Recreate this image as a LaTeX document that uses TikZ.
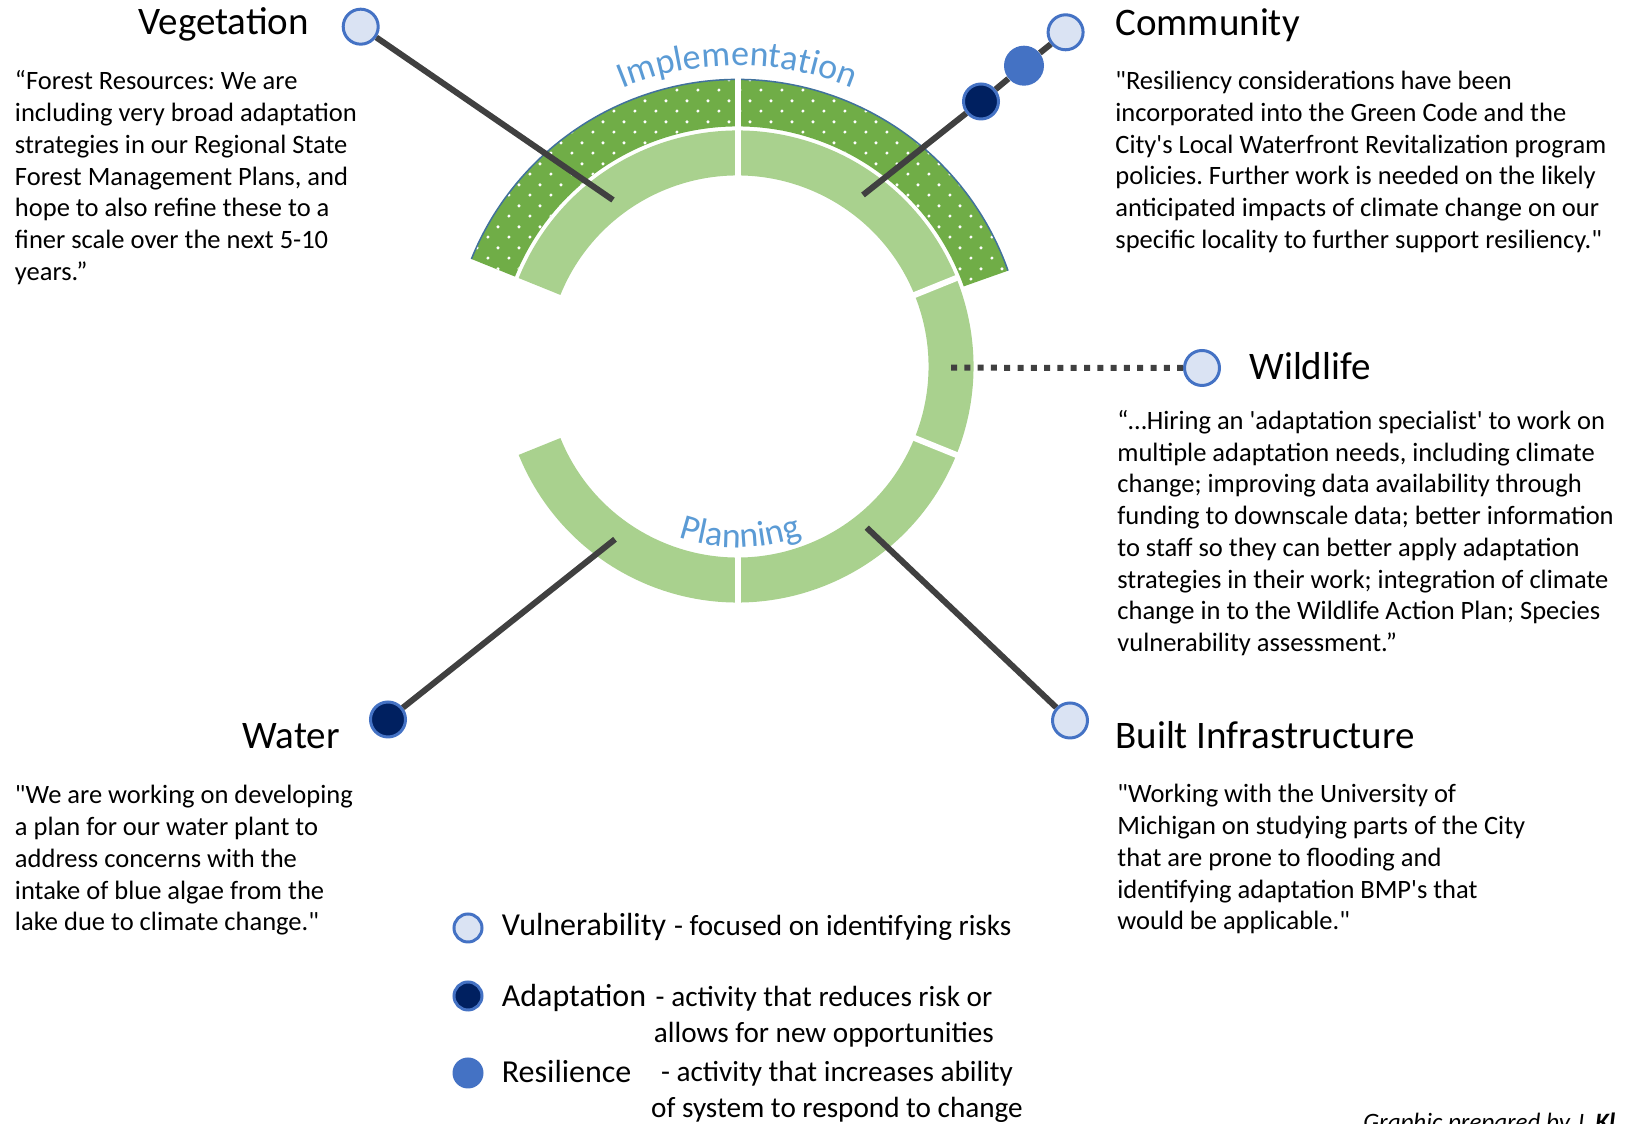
\documentclass[tikz,border=0pt]{standalone}
\usepackage{fontspec}
\setmainfont{Carlito}
\usetikzlibrary{decorations.text,patterns.meta}
\frenchspacing

\definecolor{ringgreen}{HTML}{70AD47}
\definecolor{ringlight}{HTML}{A9D18E}
\definecolor{ringedge}{HTML}{41719C}
\definecolor{vulnfill}{HTML}{DAE3F3}
\definecolor{dotedge}{HTML}{4472C4}
\definecolor{adaptfill}{HTML}{002060}
\definecolor{resilfill}{HTML}{4472C4}
\definecolor{linkgray}{HTML}{404040}
\definecolor{labelblue}{HTML}{5B9BD5}

\tikzdeclarepattern{
  name=ringdots,
  type=uncolored,
  bottom left={(0pt,0pt)},
  top right={(10.5pt,10.5pt)},
  tile size={(10.5pt,10.5pt)},
  code={
    \fill (2.6pt,2.6pt) circle (0.9pt);
    \fill (7.85pt,7.85pt) circle (0.9pt);
  }
}

\begin{document}
\begin{tikzpicture}[x=0.5pt,y=0.5pt,
  vulndot/.style={circle,draw=dotedge,line width=1.5pt,fill=vulnfill,minimum size=17.5pt,inner sep=0pt},
  adaptdot/.style={vulndot,fill=adaptfill},
  resildot/.style={circle,fill=resilfill,minimum size=20pt,inner sep=0pt},
  keydot/.style={minimum size=14pt},
  linkline/.style={linkgray,line width=3pt},
  ringgap/.style={white,line width=3pt},
  headtext/.style={font=\fontsize{19.5}{23.4}\selectfont,inner sep=0pt},
  quotetext/.style={font=\fontsize{13.25}{15.85}\selectfont,align=left,inner sep=0pt,anchor=base west},
  keyname/.style={font=\fontsize{16}{19.5}\selectfont,inner sep=0pt,anchor=base west},
  keytext/.style={font=\fontsize{14.6}{18}\selectfont,inner sep=0pt,align=center,anchor=base},
]

\useasboundingbox (0,0) rectangle (1635,1124);
\clip (0,0) rectangle (1635,1124);

\coordinate (ringc) at (737.5,757.5);

% rings
\begin{scope}[shift={(ringc)}]
\fill[ringlight] (158:236) arc[start angle=158,end angle=-158,radius=236]
  -- (-158:191) arc[start angle=-158,end angle=158,radius=191] -- cycle;
\fill[ringgreen,postaction={pattern=ringdots,pattern color=white}]
  (19.5:287) arc[start angle=19.5,end angle=158,radius=287]
  -- (158:240) arc[start angle=158,end angle=19.5,radius=240] -- cycle;
\draw[ringedge,line width=0.75pt] (19.5:287) arc[start angle=19.5,end angle=158,radius=287];
\draw[ringgap] (90:185) -- (90:292);
\foreach \a in {22,-22,-90}
  \draw[ringgap] (\a:185) -- (\a:239);

\path[decorate,decoration={text along path,text align=center,text color=labelblue,
  text={|\fontsize{18}{18}\selectfont|Implementation}}]
  (130:301) arc[start angle=130,end angle=50,radius=301];
\path[decorate,decoration={text along path,text align=center,text color=labelblue,
  text={|\fontsize{18}{18}\selectfont|Planning}}]
  (-129:181) arc[start angle=-129,end angle=-49,radius=181];
\end{scope}

% sectors
\node[vulndot] (veg) at (360.7,1097.3) {};
\node[vulndot] (comm) at (1065.6,1091.7) {};
\node[resildot] (commres) at (1024,1058.3) {};
\node[adaptdot] (commadapt) at (981,1022.5) {};
\node[vulndot] (wild) at (1202,756) {};
\node[vulndot] (built) at (1070,403.5) {};
\node[adaptdot] (water) at (388,404.5) {};

\coordinate (vegend) at (613,924);
\coordinate (commend) at (863,929);
\coordinate (wildend) at (951,756.3);
\coordinate (builtend) at (866.7,596.3);
\coordinate (waterend) at (615,584.7);

\draw[linkline] (veg) -- (vegend);
\draw[linkline] (comm) -- (commres);
\draw[linkline] (commres) -- (commadapt);
\draw[linkline] (commadapt) -- (commend);
\draw[linkline,dash pattern=on 3pt off 3.65pt] (wildend) -- (wild);
\draw[linkline] (built) -- (builtend);
\draw[linkline] (water) -- (waterend);

\node[headtext,anchor=base west] (vegtitle) at (138,1089) {Vegetation};
\node[quotetext] (vegquote) at (14.6,843.8) {“Forest Resources: We are\\
including very broad adaptation\\
strategies in our Regional State\\
Forest Management Plans, and\\
hope to also refine these to a\\
finer scale over the next 5-10\\
years.”};

\node[headtext,anchor=base west] (commtitle) at (1115,1088.5) {Community};
\node[quotetext] (commquote) at (1115,875.8) {\textquotedbl Resiliency considerations have been\\
incorporated into the Green Code and the\\
City\textquotesingle s Local Waterfront Revitalization program\\
policies. Further work is needed on the likely\\
anticipated impacts of climate change on our\\
specific locality to further support resiliency.\textquotedbl};

\node[headtext,anchor=base west] (wildtitle) at (1249,744.4) {Wildlife};
\node[quotetext] (wildquote) at (1117,472.5) {“…Hiring an \textquotesingle adaptation specialist\textquotesingle\ to work on\\
multiple adaptation needs, including climate\\
change; improving data availability through\\
funding to downscale data; better information\\
to staff so they can better apply adaptation\\
strategies in their work; integration of climate\\
change in to the Wildlife Action Plan; Species\\
vulnerability assessment.”};

\node[headtext,anchor=base west] (builttitle) at (1115,375.4) {Built Infrastructure};
\node[quotetext] (builtquote) at (1117,194.2) {\textquotedbl Working with the University of\\
Michigan on studying parts of the City\\
that are prone to flooding and\\
identifying adaptation BMP\textquotesingle s that\\
would be applicable.\textquotedbl};

\node[headtext,anchor=base east] (watertitle) at (340,375.4) {Water};
\node[quotetext] (waterquote) at (14.6,193.2) {\textquotedbl We are working on developing\\
a plan for our water plant to\\
address concerns with the\\
intake of blue algae from the\\
lake due to climate change.\textquotedbl};

% key
\node[vulndot,keydot] (keyvuln) at (468,196) {};
\node[adaptdot,keydot] (keyadapt) at (468,128) {};
\node[resildot,keydot,minimum size=15.5pt] (keyresil) at (468,51) {};
\node[keyname] (vulnname) at (501.5,188.7) {Vulnerability};
\node[keytext,anchor=base west] (vulntext) at (673.6,188.7) {- focused on identifying risks};
\node[keyname] (adaptname) at (501.5,117) {Adaptation};
\node[keytext] (adapttext) at (824,81) {- activity that reduces risk or\\ allows for new opportunities};
\node[keyname] (resilname) at (501.5,41) {Resilience};
\node[keytext] (resiltext) at (837,6) {- activity that increases ability\\ of system to respond to change};

\node[font=\itshape\fontsize{12.5}{15}\selectfont,anchor=base west,inner sep=0pt] (credit)
  at (1363,-7) {Graphic prepared by J. \textbf{Kl}};

\end{tikzpicture}
\end{document}
